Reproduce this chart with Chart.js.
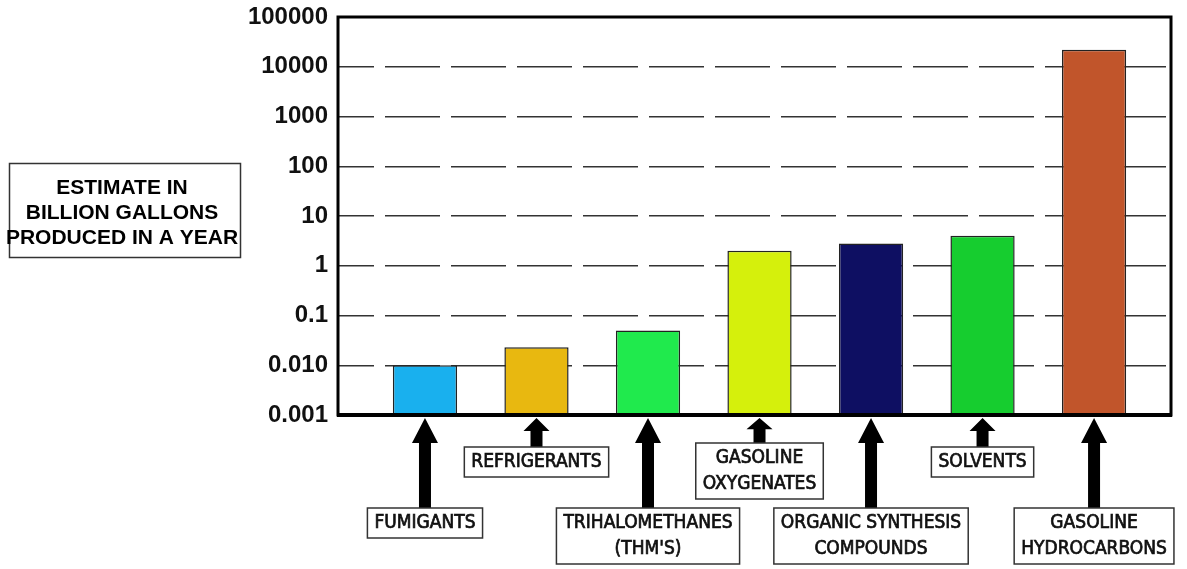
<!DOCTYPE html>
<html>
<head>
<meta charset="utf-8">
<script src="https://cdn.jsdelivr.net/npm/chart.js@4.4.0/dist/chart.umd.min.js"></script>
<style>
  body { margin: 0; background: #fff; }
  #wrap { width: 1187px; height: 569px; position: relative; }
</style>
</head>
<body>
<div id="wrap"><canvas id="myChart"></canvas></div>
<script>
// categories (multi-line labels) and yearly estimates, billion gallons
const categories = [
  ['FUMIGANTS'],
  ['REFRIGERANTS'],
  ['TRIHALOMETHANES', "(THM'S)"],
  ['GASOLINE', 'OXYGENATES'],
  ['ORGANIC SYNTHESIS', 'COMPOUNDS'],
  ['SOLVENTS'],
  ['GASOLINE', 'HYDROCARBONS']
];
const estimates = [0.01, 0.023, 0.05, 2, 2.8, 4, 22000];
const barColors = ['#19B0EE', '#E8B810', '#20EA4D', '#D5F00C', '#0E0F62', '#16CD2F', '#C1552B'];
const tickValues = [0.001, 0.01, 0.1, 1, 10, 100, 1000, 10000, 100000];
const tickLabels = ['0.001', '0.010', '0.1', '1', '10', '100', '1000', '10000', '100000'];
const yTitle = ['ESTIMATE IN', 'BILLION GALLONS', 'PRODUCED IN A YEAR'];

const labelFont = '19px "Liberation Sans Narrow", "DejaVu Sans Condensed", "Liberation Sans", sans-serif';

// frame around the plot + thick axis
const framePlugin = {
  id: 'frame',
  afterDatasetsDraw(chart) {
    const { ctx, chartArea: a } = chart;
    ctx.save();
    ctx.strokeStyle = '#000';
    ctx.lineWidth = 3;
    ctx.strokeRect(a.left, a.top, a.right - a.left, a.bottom - a.top);
    ctx.lineWidth = 4;
    ctx.beginPath();
    ctx.moveTo(a.left - 1, a.bottom);
    ctx.lineTo(a.right + 1, a.bottom);
    ctx.stroke();
    ctx.restore();
  }
};

// boxed y title on the left
const yTitlePlugin = {
  id: 'yTitleBox',
  afterDraw(chart) {
    const ctx = chart.ctx;
    ctx.save();
    ctx.strokeStyle = '#333';
    ctx.lineWidth = 1.5;
    ctx.strokeRect(9.5, 163.5, 231, 94);
    ctx.fillStyle = '#000';
    ctx.font = 'bold 21px "Liberation Sans", Arial, sans-serif';
    ctx.textAlign = 'center';
    ctx.textBaseline = 'middle';
    yTitle.forEach((line, k) => ctx.fillText(line, 122, 188 + k * 25));
    ctx.restore();
  }
};

// arrows + boxed category names under the axis
const calloutPlugin = {
  id: 'callouts',
  afterDraw(chart) {
    const ctx = chart.ctx;
    const xs = chart.scales.x;
    const tipY = chart.chartArea.bottom + 3;
    ctx.save();
    ctx.font = labelFont;
    categories.forEach((lines, i) => {
      const cx = xs.getPixelForValue(i);
      const high = i % 2 === 1;
      const lineH = 26;
      const w = Math.max(...lines.map(l => ctx.measureText(l).width)) + 14;
      const h = lines.length * lineH + 4;
      const top = high ? (lines.length > 1 ? 443 : 447) : 508;

      // arrow
      const headH = Math.min(25, (top - tipY) * 0.45);
      ctx.fillStyle = '#000';
      ctx.beginPath();
      ctx.moveTo(cx, tipY);
      ctx.lineTo(cx + 13, tipY + headH);
      ctx.lineTo(cx + 6, tipY + headH);
      ctx.lineTo(cx + 6, top);
      ctx.lineTo(cx - 6, top);
      ctx.lineTo(cx - 6, tipY + headH);
      ctx.lineTo(cx - 13, tipY + headH);
      ctx.closePath();
      ctx.fill();

      // box
      ctx.fillStyle = '#fff';
      ctx.fillRect(cx - w / 2, top, w, h);
      ctx.strokeStyle = '#333';
      ctx.lineWidth = 1.5;
      ctx.strokeRect(cx - w / 2, top, w, h);

      ctx.fillStyle = '#111';
      ctx.strokeStyle = '#111';
      ctx.lineWidth = 0.7;
      ctx.textAlign = 'center';
      ctx.textBaseline = 'middle';
      lines.forEach((l, k) => {
        const ty = top + 2 + lineH / 2 + k * lineH;
        ctx.fillText(l, cx, ty);
        ctx.strokeText(l, cx, ty);
      });
    });
    ctx.restore();
  }
};

const ctx = document.getElementById('myChart');

new Chart(ctx, {
  type: 'bar',
  data: {
    datasets: [{
      data: estimates.map((v, i) => ({ x: i, y: v })),
      backgroundColor: barColors,
      borderColor: '#222',
      borderWidth: 1.5,
      barPercentage: 0.72,
      categoryPercentage: 0.8
    }]
  },
  options: {
    responsive: true,
    maintainAspectRatio: false,
    animation: false,
    layout: { padding: { left: 0, top: 17, right: 16, bottom: 154 } },
    plugins: {
      legend: { display: false },
      tooltip: { enabled: false }
    },
    scales: {
      x: {
        type: 'linear',
        display: false,
        offset: false,
        min: -0.78,
        max: 6.69,
        afterBuildTicks: scale => { scale.ticks = categories.map((c, i) => ({ value: i })); }
      },
      y: {
        type: 'logarithmic',
        min: 0.001,
        max: 100000,
        afterBuildTicks: scale => { scale.ticks = tickValues.map(v => ({ value: v })); },
        afterFit: scale => {
          scale.width = 338;
          scale.paddingTop = 0;
          scale.paddingBottom = 0;
        },
        ticks: {
          callback: (v, idx) => tickLabels[idx],
          color: '#111',
          padding: 10,
          font: { family: '"Liberation Sans", Arial, sans-serif', size: 24, weight: 'bold' }
        },
        grid: {
          drawTicks: false,
          color: ctx => (ctx.index === 0 || ctx.index === tickValues.length - 1) ? 'rgba(0,0,0,0)' : '#333',
          lineWidth: 1.5
        },
        border: { display: false, dash: [55, 11], dashOffset: 19 }
      }
    }
  },
  plugins: [framePlugin, yTitlePlugin, calloutPlugin]
});
</script>
</body>
</html>
